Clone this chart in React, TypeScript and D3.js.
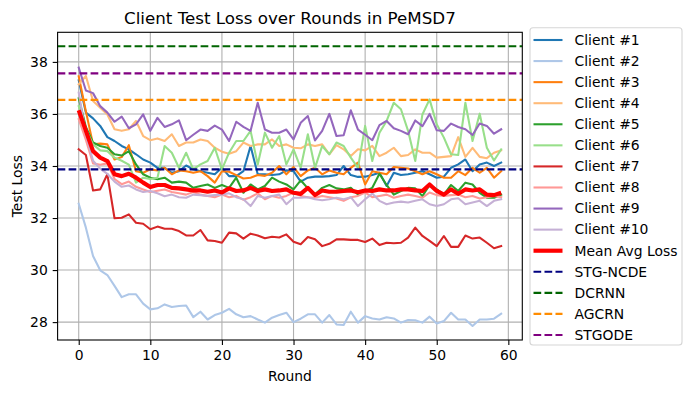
import React, { useEffect, useRef } from 'react';
import * as d3 from 'd3';

// per-round test loss, rounds 0..59
const client1 = [37.29, 36.05, 35.83, 35.54, 35.11, 34.96, 34.77, 34.64, 34.45, 34.25, 34.13, 33.93, 33.93, 33.74, 33.80, 34.02, 33.87, 33.80, 33.74, 33.68, 33.93, 33.61, 33.61, 33.80, 34.77, 33.68, 33.68, 33.65, 33.68, 33.83, 33.80, 33.40, 33.55, 33.59, 33.59, 33.61, 33.65, 34.00, 33.65, 33.58, 33.59, 33.65, 33.74, 33.23, 33.74, 33.65, 33.68, 33.74, 33.80, 33.68, 33.55, 33.59, 33.93, 34.06, 34.25, 33.80, 34.06, 34.13, 34.00, 34.13];
const client2 = [32.55, 31.63, 30.54, 29.99, 29.81, 29.39, 28.96, 29.07, 29.07, 28.71, 28.49, 28.53, 28.68, 28.58, 28.62, 28.64, 28.19, 28.40, 28.10, 28.27, 28.36, 28.51, 28.30, 28.19, 28.23, 28.10, 27.98, 28.17, 28.27, 28.36, 28.00, 28.13, 28.30, 28.30, 27.98, 28.27, 27.91, 27.89, 28.40, 27.98, 28.23, 28.14, 28.10, 28.19, 28.14, 27.98, 28.08, 28.07, 27.98, 28.21, 27.95, 28.04, 28.36, 28.10, 28.10, 27.85, 28.10, 28.10, 28.13, 28.32];
const client3 = [37.45, 36.10, 34.83, 34.86, 34.83, 34.25, 34.34, 34.80, 33.80, 33.74, 33.87, 33.83, 33.93, 33.68, 33.83, 33.80, 33.74, 33.80, 33.61, 33.36, 33.80, 33.78, 33.65, 33.52, 33.55, 33.65, 33.62, 33.74, 34.00, 33.68, 33.96, 33.61, 33.83, 33.93, 33.68, 33.83, 33.74, 33.68, 33.93, 34.13, 33.29, 33.80, 33.74, 33.68, 33.96, 33.93, 33.90, 33.80, 33.68, 33.80, 33.68, 33.55, 33.55, 33.80, 33.65, 33.93, 33.74, 33.93, 33.55, 33.80];
const client4 = [37.14, 37.46, 36.50, 36.24, 35.98, 35.41, 35.35, 35.41, 35.73, 35.15, 34.99, 35.06, 34.96, 35.22, 34.77, 34.90, 34.90, 35.02, 34.96, 34.70, 34.55, 34.47, 34.57, 34.90, 34.77, 34.83, 34.83, 35.02, 34.77, 34.83, 34.70, 34.68, 34.83, 34.77, 34.83, 34.45, 34.80, 34.64, 34.38, 34.64, 34.60, 34.77, 34.38, 34.51, 34.70, 34.38, 34.42, 34.64, 34.51, 34.51, 34.32, 34.35, 34.38, 35.11, 34.35, 34.70, 34.35, 34.30, 34.51, 34.60];
const client5 = [36.60, 35.50, 34.90, 34.77, 34.70, 34.45, 34.40, 34.57, 34.06, 33.68, 33.55, 33.49, 33.55, 33.36, 33.40, 33.36, 33.16, 33.23, 33.29, 33.16, 33.27, 33.16, 33.55, 32.97, 33.29, 33.10, 33.23, 33.55, 33.40, 33.29, 33.10, 33.45, 33.14, 32.90, 33.16, 33.27, 33.14, 33.10, 33.16, 32.90, 33.04, 33.16, 33.70, 33.27, 32.90, 33.04, 33.16, 33.14, 32.84, 33.27, 33.10, 32.90, 33.27, 33.04, 33.36, 33.29, 32.97, 32.78, 32.78, 32.90];
const client6 = [36.30, 35.40, 34.83, 34.60, 34.57, 34.32, 34.20, 34.05, 33.36, 33.55, 33.50, 33.55, 34.77, 34.51, 33.93, 34.51, 33.87, 34.06, 34.19, 34.70, 33.87, 34.51, 34.96, 34.96, 35.35, 34.06, 35.28, 34.70, 35.15, 34.06, 34.64, 33.93, 35.22, 33.93, 34.77, 34.45, 34.90, 34.77, 34.32, 33.93, 35.54, 34.19, 35.28, 35.73, 36.43, 36.18, 35.35, 34.19, 35.98, 36.56, 35.60, 35.09, 34.45, 34.42, 36.43, 34.96, 36.01, 34.70, 34.21, 34.64];
const client7 = [34.64, 34.42, 33.06, 33.10, 33.68, 31.99, 32.01, 32.14, 31.82, 31.78, 31.57, 31.67, 31.59, 31.59, 31.50, 31.33, 31.33, 31.54, 31.14, 31.12, 31.05, 31.44, 31.41, 31.21, 31.40, 31.33, 31.22, 31.28, 31.25, 31.37, 31.09, 30.99, 31.27, 31.18, 30.92, 31.01, 31.18, 31.18, 31.16, 31.16, 31.08, 31.21, 30.96, 31.05, 31.03, 31.05, 31.25, 31.63, 31.31, 31.12, 30.92, 31.31, 30.89, 30.89, 31.33, 31.21, 31.25, 31.05, 30.84, 30.92];
const client8 = [35.80, 35.00, 34.10, 34.05, 34.10, 33.50, 33.30, 33.40, 33.20, 33.10, 33.00, 33.05, 33.10, 33.00, 32.95, 32.90, 33.00, 32.90, 32.85, 32.80, 32.90, 32.80, 32.85, 32.70, 32.80, 32.95, 32.72, 32.85, 32.78, 32.85, 32.98, 32.85, 32.80, 32.78, 32.85, 32.80, 32.75, 32.66, 32.80, 32.85, 32.98, 32.80, 32.85, 32.90, 32.78, 32.85, 32.90, 32.85, 32.78, 32.98, 32.88, 32.85, 32.88, 32.90, 32.80, 32.85, 32.75, 32.80, 32.85, 32.80];
const client9 = [37.78, 36.90, 36.80, 36.30, 36.05, 35.70, 35.90, 35.45, 35.60, 35.98, 35.35, 35.85, 35.50, 35.60, 35.75, 34.99, 35.20, 35.40, 35.35, 35.55, 35.40, 34.96, 35.70, 35.50, 35.35, 36.43, 35.40, 35.28, 35.28, 35.40, 35.02, 35.66, 35.92, 34.98, 35.35, 36.00, 35.15, 35.18, 36.14, 35.40, 35.20, 34.99, 35.57, 35.73, 35.45, 35.35, 35.22, 35.75, 35.53, 36.00, 35.37, 35.35, 35.63, 35.50, 35.41, 35.19, 35.63, 35.54, 35.24, 35.41];
const client10 = [36.82, 35.20, 34.20, 33.90, 33.70, 33.40, 33.20, 33.25, 33.10, 33.00, 33.04, 32.95, 32.84, 32.90, 32.80, 32.78, 32.90, 32.88, 32.85, 32.88, 32.90, 32.95, 32.80, 32.72, 32.46, 32.85, 32.78, 32.85, 32.90, 32.53, 32.78, 32.78, 32.80, 32.72, 32.68, 32.72, 32.78, 32.72, 32.80, 32.46, 32.72, 32.94, 32.66, 32.53, 32.60, 32.63, 32.60, 32.66, 32.72, 32.53, 32.46, 32.53, 32.72, 32.76, 32.53, 32.60, 32.66, 32.46, 32.66, 32.72];
const meanLoss = [36.14, 35.35, 34.57, 34.32, 34.19, 33.68, 33.61, 33.70, 33.55, 33.36, 33.19, 33.27, 33.27, 33.16, 33.14, 33.10, 33.06, 33.06, 33.01, 33.06, 32.98, 33.14, 33.04, 33.06, 33.16, 33.04, 33.10, 33.04, 33.06, 33.10, 32.97, 32.93, 33.16, 32.88, 33.06, 33.01, 33.01, 33.04, 33.06, 32.99, 33.06, 33.04, 33.10, 33.06, 33.06, 33.10, 33.10, 33.06, 33.04, 33.29, 33.04, 32.90, 33.10, 32.93, 33.10, 33.06, 33.10, 32.90, 32.88, 32.97];

const clientLosses = [client1, client2, client3, client4, client5, client6, client7, client8, client9, client10];
const clientNames = ['Client #1', 'Client #2', 'Client #3', 'Client #4', 'Client #5', 'Client #6', 'Client #7', 'Client #8', 'Client #9', 'Client #10'];
const clientColors = ['#1f77b4', '#aec7e8', '#ff7f0e', '#ffbb78', '#2ca02c', '#98df8a', '#d62728', '#ff9896', '#9467bd', '#c5b0d5'];

const baselineNames = ['STG-NCDE', 'DCRNN', 'AGCRN', 'STGODE'];
const baselineValues = [33.87, 38.6, 36.54, 37.56];
const baselineColors = ['#000080', '#006400', '#ff8c00', '#800080'];

const xTicks = [0, 10, 20, 30, 40, 50, 60];
const yTicks = [28, 30, 32, 34, 36, 38];

const W = 691;
const H = 393;
const FONT = 'DejaVu Sans, sans-serif';

const App = () => {
    const ref = useRef<SVGSVGElement>(null);

    useEffect(() => {
        document.body.style.margin = '0';
        const left = 57.6, right = 522.3, top = 32.3, bottom = 340;

        const svg = d3.select(ref.current);
        svg.selectAll('*').remove();

        const n = meanLoss.length;
        const xPad = (n - 1) * 0.05;
        const x = d3.scaleLinear().domain([-xPad, n - 1 + xPad]).range([left, right]);

        const allVals = [...clientLosses.flat(), ...meanLoss, ...baselineValues];
        const lo = d3.min(allVals)!, hi = d3.max(allVals)!;
        const yPad = (hi - lo) * 0.05;
        const y = d3.scaleLinear().domain([lo - yPad, hi + yPad]).range([bottom, top]);

        svg.append('rect').attr('width', W).attr('height', H).attr('fill', 'white');

        // grid
        const grid = svg.append('g').attr('stroke', '#b0b0b0').attr('stroke-width', 1.1);
        grid.selectAll('.gx').data(xTicks).enter().append('line')
            .attr('x1', d => x(d)).attr('x2', d => x(d)).attr('y1', top).attr('y2', bottom);
        grid.selectAll('.gy').data(yTicks).enter().append('line')
            .attr('x1', left).attr('x2', right).attr('y1', d => y(d)).attr('y2', d => y(d));

        const line = d3.line<number>().x((_, i) => x(i)).y(d => y(d));

        const plot = svg.append('g');
        clientLosses.forEach((vals, k) => {
            plot.append('path').datum(vals)
                .attr('d', line)
                .attr('fill', 'none')
                .attr('stroke', clientColors[k])
                .attr('stroke-width', 2.08)
                .attr('stroke-linejoin', 'round')
                .attr('stroke-linecap', 'square');
        });
        plot.append('path').datum(meanLoss)
            .attr('d', line)
            .attr('fill', 'none')
            .attr('stroke', '#ff0000')
            .attr('stroke-width', 4.17)
            .attr('stroke-linejoin', 'round');

        baselineValues.forEach((v, k) => {
            plot.append('line')
                .attr('x1', left).attr('x2', right)
                .attr('y1', y(v)).attr('y2', y(v))
                .attr('stroke', baselineColors[k])
                .attr('stroke-width', 2.08)
                .attr('stroke-dasharray', '7.7,3.3');
        });

        // axes
        const xAxis = svg.append('g')
            .attr('transform', `translate(0,${bottom})`)
            .call(d3.axisBottom(x).tickValues(xTicks).tickSizeInner(4.9).tickSizeOuter(0).tickPadding(4.9));
        const yAxis = svg.append('g')
            .attr('transform', `translate(${left},0)`)
            .call(d3.axisLeft(y).tickValues(yTicks).tickSizeInner(4.9).tickSizeOuter(0).tickPadding(4.9));
        [xAxis, yAxis].forEach(a => {
            a.select('.domain').remove();
            a.selectAll('line').attr('stroke', 'black').attr('stroke-width', 1.1);
            a.selectAll('text').attr('font-family', FONT).attr('font-size', 13.9).attr('fill', 'black');
        });

        svg.append('rect')
            .attr('x', left).attr('y', top)
            .attr('width', right - left).attr('height', bottom - top)
            .attr('fill', 'none').attr('stroke', 'black').attr('stroke-width', 1.1);

        svg.append('text')
            .attr('x', (left + right) / 2).attr('y', 23.5)
            .attr('text-anchor', 'middle')
            .attr('font-family', FONT).attr('font-size', 16.7)
            .text('Client Test Loss over Rounds in PeMSD7');
        svg.append('text')
            .attr('x', (left + right) / 2).attr('y', 381)
            .attr('text-anchor', 'middle')
            .attr('font-family', FONT).attr('font-size', 13.9)
            .text('Round');
        svg.append('text')
            .attr('transform', `translate(22,${(top + bottom) / 2}) rotate(-90)`)
            .attr('text-anchor', 'middle')
            .attr('font-family', FONT).attr('font-size', 13.9)
            .text('Test Loss');

        // legend
        const entries = [
            ...clientNames.map((name, k) => ({ name, color: clientColors[k], width: 2.08, dash: null as string | null })),
            { name: 'Mean Avg Loss', color: '#ff0000', width: 4.17, dash: null as string | null },
            ...baselineNames.map((name, k) => ({ name, color: baselineColors[k], width: 2.08, dash: '7.7,3.3' as string | null })),
        ];
        const lg = svg.append('g');
        lg.append('rect')
            .attr('x', 530).attr('y', 27.7)
            .attr('width', 152).attr('height', 317.3)
            .attr('rx', 3)
            .attr('fill', 'white').attr('fill-opacity', 0.8)
            .attr('stroke', '#d6d6d6').attr('stroke-width', 1.1);
        entries.forEach((e, k) => {
            const cy = 40 + k * 21.07;
            lg.append('line')
                .attr('x1', 533.5).attr('x2', 562.5)
                .attr('y1', cy).attr('y2', cy)
                .attr('stroke', e.color)
                .attr('stroke-width', e.width)
                .attr('stroke-dasharray', e.dash ?? null);
            lg.append('text')
                .attr('x', 574.5).attr('y', cy)
                .attr('dy', '0.35em')
                .attr('font-family', FONT).attr('font-size', 13.9)
                .text(e.name);
        });
    }, []);

    return <svg ref={ref} width={W} height={H} style={{ display: 'block' }}></svg>;
};

export default App;
